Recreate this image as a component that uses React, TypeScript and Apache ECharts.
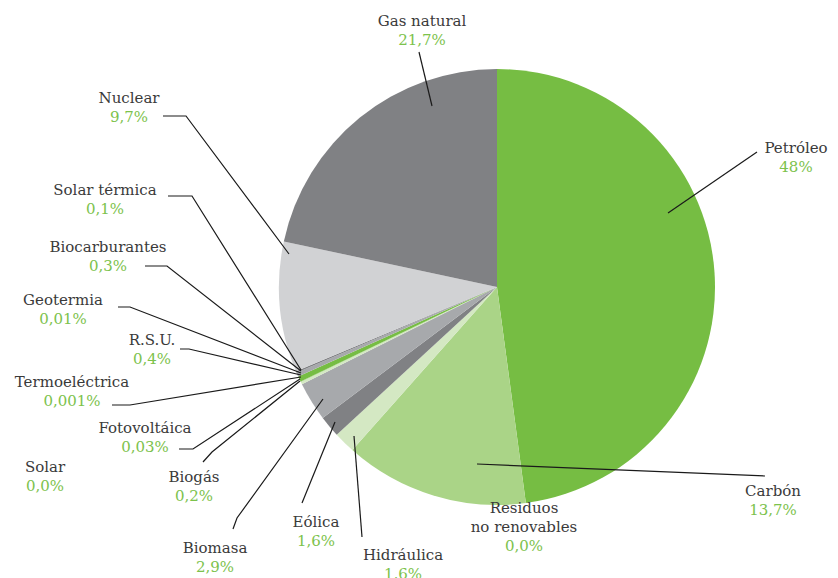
import React, { useEffect, useRef } from "react";
import * as echarts from "echarts";

// Data (clockwise from 12 o'clock)
const categories = [
  "Petróleo",
  "Carbón",
  "Residuos\nno renovables",
  "Hidráulica",
  "Eólica",
  "Biomasa",
  "Biogás",
  "Fotovoltáica",
  "Solar",
  "Termoeléctrica",
  "R.S.U.",
  "Geotermia",
  "Biocarburantes",
  "Solar térmica",
  "Nuclear",
  "Gas natural",
];
const values = [48, 13.7, 0, 1.6, 1.6, 2.9, 0.2, 0.03, 0, 0.001, 0.4, 0.01, 0.3, 0.1, 9.7, 21.7];
const valueLabels = [
  "48%", "13,7%", "0,0%", "1,6%", "1,6%", "2,9%", "0,2%", "0,03%", "0,0%", "0,001%",
  "0,4%", "0,01%", "0,3%", "0,1%", "9,7%", "21,7%",
];

// Styles
const sliceColors = [
  "#76bd43", "#aad487", "#aad487", "#d4e8c3", "#808184", "#a7a9ac", "#d4e8c3", "#76bd43",
  "#76bd43", "#aad487", "#76bd43", "#d4e8c3", "#a7a9ac", "#808184", "#d1d2d4", "#808184",
];

// Label layout: label block centre and leader line points (from slice to label)
const labelPos: Record<string, { x: number; y: number; line?: number[][] }> = {
  "Petróleo": { x: 796, y: 157, line: [[668, 213], [757, 152]] },
  "Carbón": { x: 773, y: 500, line: [[477, 464], [765, 476]] },
  "Residuos\nno renovables": { x: 524, y: 527 },
  "Hidráulica": { x: 403, y: 564, line: [[354, 436], [362, 537]] },
  "Eólica": { x: 316, y: 531, line: [[335, 422], [302, 503]] },
  "Biomasa": { x: 215, y: 557, line: [[323, 399], [237, 518], [233, 529]] },
  "Biogás": { x: 194, y: 486, line: [[300, 381], [212, 452], [203, 462]] },
  "Fotovoltáica": { x: 145, y: 437, line: [[300, 379], [193, 449], [179, 449]] },
  "Solar": { x: 45, y: 476 },
  "Termoeléctrica": { x: 72, y: 391, line: [[301, 377], [130, 405], [112, 405]] },
  "R.S.U.": { x: 152, y: 349, line: [[301, 375], [189, 349], [180, 349]] },
  "Geotermia": { x: 63, y: 309, line: [[301, 373], [130, 307], [118, 307]] },
  "Biocarburantes": { x: 108, y: 256, line: [[301, 371], [167, 266], [145, 266]] },
  "Solar térmica": { x: 105, y: 199, line: [[301, 370], [192, 196], [168, 196]] },
  "Nuclear": { x: 129, y: 107, line: [[289, 254], [186, 116], [163, 116]] },
  "Gas natural": { x: 422, y: 30, line: [[432, 106], [419, 52]] },
};

export default function App() {
  const ref = useRef<HTMLDivElement>(null);
  useEffect(() => {
    if (!ref.current) return;
    const chart = echarts.init(ref.current, undefined, { renderer: "svg" });
    const data = categories.map((name, i) => ({
      name,
      value: values[i],
      itemStyle: { color: sliceColors[i] },
    }));
    const leaderLines = categories
      .filter((n) => labelPos[n].line)
      .map((n) => ({
        type: "polyline",
        z: 100,
        silent: true,
        shape: { points: labelPos[n].line },
        style: { stroke: "#1a1a1a", lineWidth: 1.2, fill: null },
      }));
    chart.setOption({
      animation: false,
      backgroundColor: "#ffffff",
      graphic: { elements: leaderLines },
      series: [
        {
          type: "pie",
          center: [497, 287],
          radius: 218,
          startAngle: 90,
          clockwise: true,
          avoidLabelOverlap: false,
          minShowLabelAngle: 0,
          itemStyle: { borderWidth: 0 },
          data,
          label: {
            show: true,
            position: "outer",
            formatter: (p: any) => `{n|${p.name}}\n{p|${valueLabels[p.dataIndex]}}`,
            rich: {
              n: {
                fontFamily: "DejaVu Serif",
                fontSize: 15,
                color: "#3a3a3a",
                lineHeight: 19,
                align: "center",
              },
              p: {
                fontFamily: "DejaVu Serif",
                fontSize: 15,
                color: "#7cc24c",
                lineHeight: 19,
                align: "center",
              },
            },
          },
          labelLine: { show: false },
          labelLayout: (params: any) => {
            const name = categories[params.dataIndex];
            const pos = labelPos[name];
            return {
              x: pos.x,
              y: pos.y,
              align: "center",
              verticalAlign: "middle",
            };
          },
        },
      ],
    });
    return () => chart.dispose();
  }, []);
  return (
    <div
      ref={ref}
      style={{ position: "fixed", left: 0, top: 0, width: 838, height: 578 }}
    />
  );
}
